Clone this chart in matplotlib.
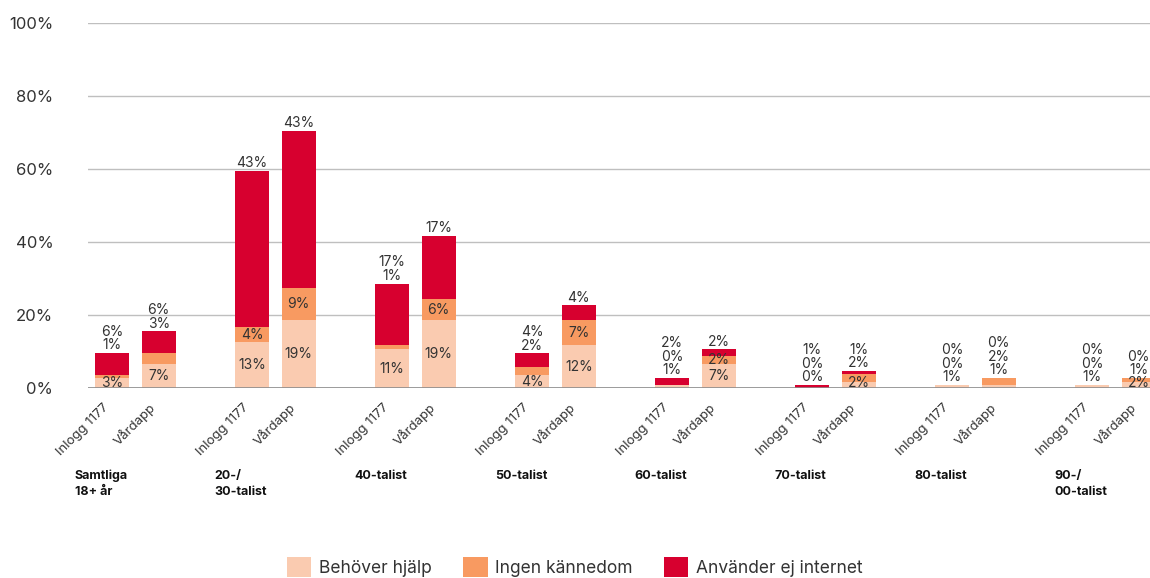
import matplotlib
matplotlib.use("Agg")
import matplotlib.pyplot as plt
import matplotlib.transforms as mtransforms
from matplotlib.patches import Patch
import numpy as np

plt.rcParams['font.family'] = ['Inter', 'DejaVu Sans']

groups = ["Samtliga\n18+ år", "20-/\n30-talist", "40-talist", "50-talist",
          "60-talist", "70-talist", "80-talist", "90-/\n00-talist"]
bar_labels = ["Inlogg 1177", "Vårdapp"]

# values in percent, per bar (Inlogg 1177, Vårdapp per group)
behover_hjalp = [2.9, 6.7, 12.6, 18.6, 10.7, 18.6, 3.6, 11.8,
                 0.9, 6.6, 0.0, 1.8, 0.9, 0.9, 0.9, 1.8]
ingen_kannedom = [0.7, 3.0, 4.1, 9.0, 1.1, 6.0, 2.2, 6.8,
                  0.0, 2.2, 0.0, 2.1, 0.0, 1.9, 0.0, 1.0]
anvander_ej = [6.1, 5.9, 42.8, 42.8, 16.9, 17.2, 3.8, 4.1,
               1.9, 1.9, 0.9, 0.9, 0.0, 0.0, 0.0, 0.0]

series_names = ["Behöver hjälp", "Ingen kännedom", "Använder ej internet"]
colors = ["#FACBB0", "#F89A61", "#D7002F"]

# label placement: whether the middle segment label sits inside the bar
ingen_inside = [False, False, True, True, False, True, False, True,
                False, True, False, False, False, False, False, False]

TXT = "#333333"

fig = plt.figure(figsize=(11.5, 5.78), dpi=100)
ax = fig.add_axes([0.0765, 0.328, 0.9235, 0.632])

n = len(behover_hjalp)
x = np.array([3 * (i // 2) + (i % 2) for i in range(n)], dtype=float)
w = 0.73

h = np.array(behover_hjalp)
o = np.array(ingen_kannedom)
r = np.array(anvander_ej)

ax.bar(x, h, w, color=colors[0], zorder=3)
ax.bar(x, o, w, bottom=h, color=colors[1], zorder=3)
ax.bar(x, r, w, bottom=h + o, color=colors[2], zorder=3)

for i in range(n):
    above = []
    if h[i] >= 1.5:
        yc = max(h[i] / 2, 1.6)
        ax.text(x[i], yc, f"{round(h[i]):.0f}%", ha='center', va='center',
                fontsize=10, color=TXT, zorder=4)
    else:
        above.append(h[i])
    if ingen_inside[i]:
        ax.text(x[i], h[i] + o[i] / 2, f"{round(o[i]):.0f}%", ha='center',
                va='center', fontsize=10, color=TXT, zorder=4)
    else:
        above.append(o[i])
    above.append(r[i])
    top = h[i] + o[i] + r[i]
    for k, v in enumerate(above):
        ax.annotate(f"{round(v):.0f}%", xy=(x[i], top), xytext=(0, 5.6 + 9.7 * k),
                    textcoords='offset points', ha='center', va='center',
                    fontsize=10, color=TXT, zorder=4)

ax.set_ylim(0, 100)
ax.set_xlim(-0.514, 22.24)
ax.set_yticks(np.arange(0, 101, 20))
ax.set_yticklabels([f"{v}%" for v in range(0, 101, 20)], fontsize=12, color=TXT)
ax.tick_params(axis='y', length=0, pad=25)
ax.yaxis.grid(True, color="#BFBFBF", linewidth=1.0, zorder=0)
ax.axhline(0, color="#8C8C8C", linewidth=1.2, zorder=5)
for s in ax.spines.values():
    s.set_visible(False)

ax.set_xticks(x)
ax.set_xticklabels([bar_labels[i % 2] for i in range(n)], rotation=45,
                   ha='right', va='center', rotation_mode='anchor',
                   fontsize=9.5, color=TXT)
ax.tick_params(axis='x', length=0, pad=9)
shift = mtransforms.ScaledTranslation(-5 / 100, -5 / 100, fig.dpi_scale_trans)
for lab in ax.get_xticklabels():
    lab.set_transform(lab.get_transform() + shift)

trans = ax.get_xaxis_transform()
for g, name in enumerate(groups):
    ax.text(3 * g - 0.80, -0.222, name, transform=trans, ha='left', va='top',
            fontsize=9, fontweight='bold', color="#111111", linespacing=1.45)

handles = [Patch(facecolor=c, edgecolor='none', label=l) for c, l in zip(colors, series_names)]
fig.legend(handles=handles, loc='lower center', bbox_to_anchor=(0.5, -0.025), ncol=3,
           frameon=False, fontsize=12.5, handlelength=1.4, handleheight=1.4,
           columnspacing=1.8, handletextpad=0.45, labelcolor=TXT)

fig.savefig("out.png", dpi=100)
